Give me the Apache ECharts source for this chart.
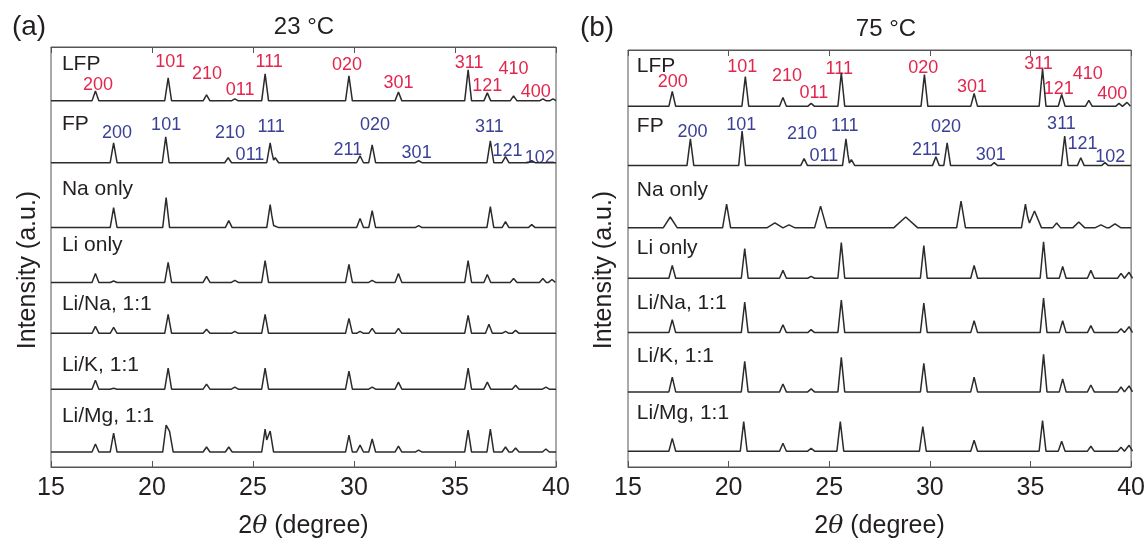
<!DOCTYPE html>
<html><head><meta charset="utf-8">
<script src="https://cdn.jsdelivr.net/npm/echarts@6/dist/echarts.min.js"></script>
<style>html,body{margin:0;padding:0;background:#fff}#c{width:1148px;height:544px}</style>
</head><body><div id="c"></div>
<script>
// ---------------- DATA ----------------
const xTicks = [15, 20, 25, 30, 35, 40];
const traceNames = ['LFP', 'FP', 'Na only', 'Li only', 'Li/Na, 1:1', 'Li/K, 1:1', 'Li/Mg, 1:1'];
const panelTitles = ['23 °C', '75 °C'];
const panelTags = ['(a)', '(b)'];

// peaks: [2theta, height (a.u.), optional half base width]
const p23_LFP  = [[17.2,10],[20.8,23],[22.7,6],[24.1,2],[25.6,27],[29.75,25],[32.2,9],[35.65,31],[36.6,8],[37.9,5],[39.35,2],[39.85,2]];
const p23_FP   = [[18.1,20],[20.68,26],[23.77,5],[25.85,20],[26.1,5],[30.3,7],[30.9,18],[33.2,2],[36.75,22],[37.5,6],[38.8,2]];
const p23_Na   = [[18.1,20],[20.7,30],[23.8,7],[25.85,23],[26.1,4],[30.3,9],[30.9,17],[33.2,2],[36.75,21],[37.5,6],[38.8,3]];
const p23_Li   = [[17.2,9],[18.1,1.5],[20.8,20],[22.7,6],[24.1,2],[25.6,22],[29.75,18],[30.9,2],[32.2,9],[35.65,22],[36.6,8],[37.9,4],[39.35,4],[39.8,3]];
const p23_LiNa = [[17.2,7],[18.1,6],[20.8,19],[22.7,4],[24.1,2],[25.6,19],[29.75,15],[30.3,2],[30.9,5],[32.2,5],[35.65,18],[36.68,9],[37.5,2],[38.0,3]];
const p23_LiK  = [[17.2,9],[18.1,1],[20.8,21],[22.7,5],[24.1,2],[25.6,21],[29.75,18],[30.9,2],[32.2,7],[35.65,21],[36.6,7],[38.0,4],[39.5,2]];
const p23_LiMg = [[17.2,8],[18.1,19],[20.7,27],[20.88,22],[22.7,5],[23.8,5],[25.6,23],[25.85,21],[29.75,17],[30.3,7],[30.9,13],[32.2,6],[33.2,2],[35.65,22],[36.75,23],[37.5,5],[38.0,4],[39.5,3]];

const p75_LFP  = [[17.2,15],[20.83,30],[22.7,9],[24.1,3],[25.6,34],[29.73,32],[32.2,13],[35.6,38],[36.55,12],[37.9,6],[39.4,3],[39.8,4]];
const p75_FP   = [[18.1,27],[20.67,35],[23.75,7],[25.83,27],[26.1,6],[30.3,9],[30.86,23],[33.2,3],[36.7,30],[37.5,8],[38.7,3]];
const p75_Na   = [[17.1,11,0.35],[19.9,24,0.2],[22.3,5,0.4],[23.0,3,0.3],[24.57,22,0.3],[28.8,11,0.6],[31.55,27,0.22],[34.75,24,0.2],[35.2,17,0.35],[36.3,5,0.2],[37.4,6,0.3],[38.5,3,0.3],[39.2,4,0.3]];
const p75_Li   = [[17.2,13],[20.8,30],[22.7,8],[24.1,2],[25.6,36],[29.7,33],[32.2,13],[35.65,37],[36.6,12],[38.0,8],[39.5,5],[39.9,6]];
const p75_LiNa = [[17.2,13],[20.8,31],[22.7,8],[24.1,3],[25.6,33],[29.7,30],[32.2,12],[35.65,35],[36.6,12],[38.0,7],[39.5,4],[39.9,6]];
const p75_LiK  = [[17.2,15],[20.8,31],[22.7,8],[24.1,3],[25.6,35],[29.7,29],[32.2,15],[35.65,38],[36.6,13],[38.0,7],[39.5,5],[39.9,6]];
const p75_LiMg = [[17.2,13],[20.75,30],[22.7,8],[24.1,3],[25.55,30],[29.65,25],[32.2,11],[35.6,31],[36.55,10],[38.0,5],[39.5,4],[39.9,6]];

// hkl labels: [text, 2theta, height above trace baseline]
const hkl23_LFP = [['200',17.33,16],['101',20.9,39],['210',22.72,27],['011',24.36,11],['111',25.8,39],['020',29.65,36],['301',32.2,18],['311',35.7,38],['121',36.6,15],['410',37.9,32],['400',39.0,9]];
const hkl23_FP  = [['200',18.27,30],['101',20.7,38],['210',23.86,30],['011',24.85,8],['111',25.9,36],['211',29.7,13],['020',31.04,38],['301',33.1,10],['311',36.7,36],['121',37.6,12],['102',39.2,5]];
const hkl75_LFP = [['200',17.22,25],['101',20.68,40],['210',22.9,31],['011',24.24,13],['111',25.5,38],['020',29.67,39],['301',32.1,20],['311',35.4,43],['121',36.4,17],['410',37.85,33],['400',39.06,12]];
const hkl75_FP  = [['200',18.2,34],['101',20.63,41],['210',23.65,32],['011',24.73,10],['111',25.77,40],['211',29.82,16],['020',30.8,39],['301',33.03,11],['311',36.54,42],['121',37.58,22],['102',38.96,9]];

// ---------------- LAYOUT ----------------
const FONT = '"Liberation Sans", Arial, Helvetica, sans-serif';
const INK = '#231f20', RED = '#e3264d', BLUE = '#3b4196', LINE = '#2b2b2b', FRAME = '#555555';
const HALF_W = 0.17;

const panels = [
  { traces: [p23_LFP, p23_FP, p23_Na, p23_Li, p23_LiNa, p23_LiK, p23_LiMg], hkl: [hkl23_LFP, hkl23_FP],
    base: [367, 305, 240, 185, 134, 78, 15], nameY: [404, 344, 278, 222, 163, 102, 51], nameX: 15.54,
    grid: { left: 51, top: 47, width: 505, height: 421 }, yMax: 421 },
  { traces: [p75_LFP, p75_FP, p75_Na, p75_Li, p75_LiNa, p75_LiK, p75_LiMg], hkl: [hkl75_LFP, hkl75_FP],
    base: [365, 305, 242, 191, 136, 76, 16], nameY: [406, 345, 280, 221, 166, 112, 54], nameX: 15.44,
    grid: { left: 628, top: 50, width: 506, height: 422 }, yMax: 422 }
];

function profile(peaks, base) {
  const xs = new Set([xTicks[0], xTicks[xTicks.length - 1]]);
  peaks.forEach(p => { const w = p[2] || HALF_W; xs.add(+(p[0] - w).toFixed(3)); xs.add(p[0]); xs.add(+(p[0] + w).toFixed(3)); });
  return [...xs].sort((a, b) => a - b).map(x => [x, base + peaks.reduce((s, p) => {
    const w = p[2] || HALF_W, d = Math.abs(x - p[0]);
    return s + (d < w ? p[1] * (1 - d / w) : 0);
  }, 0)]);
}

const grids = [], xAxes = [], yAxes = [], series = [];
const xMin = xTicks[0], xMax = xTicks[xTicks.length - 1], xInt = xTicks[1] - xTicks[0];
panels.forEach((P, k) => {
  grids.push(Object.assign({ show: true, borderColor: FRAME, borderWidth: 1, containLabel: false }, P.grid));
  xAxes.push({ gridIndex: k, type: 'value', position: 'bottom', min: xMin, max: xMax, interval: xInt,
    name: '{n|2}{i|θ}{n| (degree)}', nameLocation: 'middle', nameGap: 47,
    nameTextStyle: { rich: { n: { fontFamily: FONT, fontSize: 25, color: INK }, i: { fontFamily: 'DejaVu Serif, serif', fontStyle: 'italic', fontSize: 25, color: INK } } },
    axisLine: { show: true, lineStyle: { color: FRAME, width: 1 } },
    axisTick: { show: true, inside: true, length: 6, lineStyle: { color: FRAME } },
    axisLabel: { fontFamily: FONT, fontSize: 25, color: INK, margin: 9 },
    splitLine: { show: false } });
  xAxes.push({ gridIndex: k, type: 'value', position: 'top', min: xMin, max: xMax, interval: xInt,
    axisLine: { show: true, lineStyle: { color: FRAME, width: 1 } },
    axisTick: { show: true, inside: true, length: 6, lineStyle: { color: FRAME } },
    axisLabel: { show: false }, splitLine: { show: false } });
  yAxes.push({ gridIndex: k, type: 'value', min: 0, max: P.yMax, show: false });

  P.traces.forEach((pk, i) => {
    series.push({ type: 'line', name: traceNames[i] + ' ' + panelTitles[k], xAxisIndex: 2 * k, yAxisIndex: k,
      data: profile(pk, P.base[i]), showSymbol: false, symbol: 'none', silent: true, animation: false,
      lineStyle: { color: LINE, width: 1.5 } });
  });
  // trace names
  series.push({ type: 'scatter', xAxisIndex: 2 * k, yAxisIndex: k, symbolSize: 0, silent: true, animation: false,
    itemStyle: { opacity: 1 },
    data: traceNames.map((t, i) => ({ name: t, value: [P.nameX, P.nameY[i]] })),
    label: { show: true, position: 'right', distance: 0, formatter: '{b}', fontFamily: FONT, fontSize: 21, color: INK, opacity: 1, align: 'left', verticalAlign: 'middle' } });
  // hkl labels
  [[P.hkl[0], RED, 0], [P.hkl[1], BLUE, 1]].forEach(([arr, col, ti]) => {
    series.push({ type: 'scatter', xAxisIndex: 2 * k, yAxisIndex: k, symbolSize: 0, silent: true, animation: false,
      itemStyle: { opacity: 1 },
      data: arr.map(a => ({ name: a[0], value: [a[1], P.base[ti] + a[2]] })),
      label: { show: true, position: 'inside', formatter: '{b}', fontFamily: FONT, fontSize: 18, color: col, opacity: 1 } });
  });
});

const chart = echarts.init(document.getElementById('c'), null, { renderer: 'canvas' });
chart.setOption({
  animation: false,
  backgroundColor: '#ffffff',
  grid: grids, xAxis: xAxes, yAxis: yAxes, series: series,
  graphic: [
    { type: 'text', x: 29, y: 27, style: { text: panelTags[0], font: '28px ' + FONT, fill: INK, textAlign: 'center', textVerticalAlign: 'middle' } },
    { type: 'text', x: 597, y: 28, style: { text: panelTags[1], font: '28px ' + FONT, fill: INK, textAlign: 'center', textVerticalAlign: 'middle' } },
    { type: 'text', x: 304, y: 27, style: { text: panelTitles[0], font: '24px ' + FONT, fill: INK, textAlign: 'center', textVerticalAlign: 'middle' } },
    { type: 'text', x: 886, y: 29, style: { text: panelTitles[1], font: '24px ' + FONT, fill: INK, textAlign: 'center', textVerticalAlign: 'middle' } },
    { type: 'text', x: 28, y: 270, rotation: Math.PI / 2, style: { text: 'Intensity (a.u.)', font: '25px ' + FONT, fill: INK, textAlign: 'center', textVerticalAlign: 'middle' } },
    { type: 'text', x: 604, y: 270, rotation: Math.PI / 2, style: { text: 'Intensity (a.u.)', font: '25px ' + FONT, fill: INK, textAlign: 'center', textVerticalAlign: 'middle' } }
  ]
});
</script></body></html>
